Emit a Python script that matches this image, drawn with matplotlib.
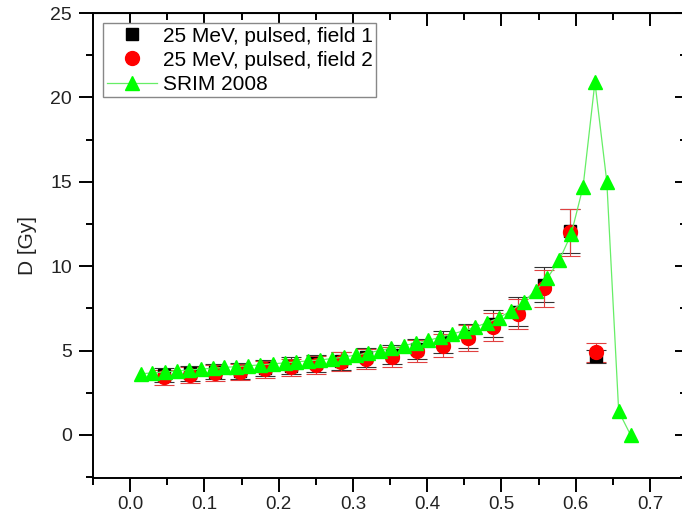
import matplotlib
matplotlib.use("Agg")
import matplotlib.pyplot as plt
from matplotlib.ticker import MultipleLocator, FormatStrFormatter

plt.rcParams['font.family'] = ['Liberation Sans', 'DejaVu Sans']

# measured depth-dose points, two fields
depth = [0.046, 0.080, 0.114, 0.148, 0.182, 0.216, 0.250, 0.284, 0.318,
         0.353, 0.387, 0.421, 0.455, 0.489, 0.523, 0.557, 0.592, 0.627]
dose_f1 = [3.55, 3.65, 3.75, 3.80, 3.95, 4.10, 4.25, 4.40, 4.60,
           4.75, 5.10, 5.50, 5.85, 6.60, 7.30, 8.90, 12.10, 4.65]
err_f1 = [0.42, 0.44, 0.45, 0.46, 0.47, 0.49, 0.50, 0.53, 0.55,
          0.57, 0.60, 0.65, 0.70, 0.78, 0.85, 1.05, 1.30, 0.40]
dose_f2 = [3.42, 3.55, 3.66, 3.72, 3.88, 4.00, 4.16, 4.33, 4.50,
           4.60, 5.00, 5.30, 5.75, 6.40, 7.15, 8.70, 12.00, 4.90]
err_f2 = [0.45, 0.45, 0.47, 0.48, 0.50, 0.52, 0.54, 0.56, 0.58,
          0.60, 0.65, 0.70, 0.75, 0.83, 0.90, 1.10, 1.40, 0.55]

# SRIM 2008 simulation
srim_depth = [0.014, 0.030, 0.047, 0.063, 0.079, 0.095, 0.111, 0.127, 0.143,
              0.159, 0.175, 0.192, 0.208, 0.224, 0.240, 0.256, 0.272, 0.288,
              0.304, 0.320, 0.336, 0.352, 0.369, 0.385, 0.401, 0.417, 0.433,
              0.449, 0.465, 0.481, 0.497, 0.513, 0.530, 0.546, 0.562, 0.578,
              0.594, 0.610, 0.626, 0.642, 0.658, 0.674]
srim_dose = [3.62, 3.68, 3.74, 3.79, 3.85, 3.90, 3.95, 4.00, 4.05,
             4.10, 4.15, 4.21, 4.27, 4.33, 4.39, 4.45, 4.52, 4.62,
             4.73, 4.86, 5.00, 5.15, 5.30, 5.45, 5.60, 5.78, 5.97,
             6.17, 6.40, 6.65, 6.95, 7.35, 7.90, 8.55, 9.30, 10.35,
             11.90, 14.70, 20.90, 15.00, 1.40, 0.00]

fig = plt.figure(figsize=(6.82, 5.13), dpi=100)
ax = fig.add_axes([93 / 682, 35 / 513, 594 / 682, 465 / 513])

ax.errorbar(depth, dose_f1, yerr=err_f1, fmt='none', ecolor='#333333',
            elinewidth=0.8, capsize=7, capthick=0.8, zorder=2)
ax.errorbar(depth, dose_f2, yerr=err_f2, fmt='none', ecolor='#e04040',
            elinewidth=0.8, capsize=7, capthick=0.8, zorder=2)
ax.plot(depth, dose_f1, 's', color='black', ms=8.5, lw=0,
        label='25 MeV, pulsed, field 1', zorder=3)
ax.plot(depth, dose_f2, 'o', color='#ff0000', ms=10, lw=0,
        label='25 MeV, pulsed, field 2', zorder=4)
ax.plot(srim_depth, srim_dose, '-^', color='#66ee66', mfc='#00ff00',
        mec='#00ff00', ms=10, lw=0.9, label='SRIM 2008', zorder=5)

ax.set_xlim(-0.05, 0.75)
ax.set_ylim(-2.55, 25)
ax.xaxis.set_major_locator(MultipleLocator(0.1))
ax.xaxis.set_minor_locator(MultipleLocator(0.05))
ax.yaxis.set_major_locator(MultipleLocator(5))
ax.yaxis.set_minor_locator(MultipleLocator(2.5))
ax.xaxis.set_major_formatter(FormatStrFormatter('%.1f'))

ax.tick_params(which='both', direction='out', width=1.4, labelsize=14,
               labelcolor='#222222', pad=5, top=False, right=False)
ax.tick_params(axis='x', which='both', labelsize=13.5, pad=3)
ax.tick_params(which='major', length=10)
ax.tick_params(which='minor', length=5)
for sp in ax.spines.values():
    sp.set_linewidth(1.4)

# inward ticks on the top and right edges
secx = ax.secondary_xaxis('top')
secx.xaxis.set_major_locator(MultipleLocator(0.1))
secx.xaxis.set_minor_locator(MultipleLocator(0.05))
secx.tick_params(which='both', direction='in', width=1.4, labeltop=False)
secx.tick_params(which='major', length=9)
secx.tick_params(which='minor', length=5)
secy = ax.secondary_yaxis('right')
secy.yaxis.set_major_locator(MultipleLocator(5))
secy.yaxis.set_minor_locator(MultipleLocator(2.5))
secy.tick_params(which='both', direction='in', width=1.4, labelright=False)
secy.tick_params(which='major', length=9)
secy.tick_params(which='minor', length=5)

ax.set_ylabel('D [Gy]', fontsize=15, labelpad=10, color='#222222')

leg = ax.legend(loc='upper left', fontsize=15, handlelength=2.4,
                handletextpad=0.3, labelspacing=0.25, borderpad=0.15,
                borderaxespad=0.5, fancybox=False, framealpha=1)
leg.get_frame().set_edgecolor('#888888')
leg.get_frame().set_linewidth(1.0)

fig.savefig('out.png', dpi=100)
